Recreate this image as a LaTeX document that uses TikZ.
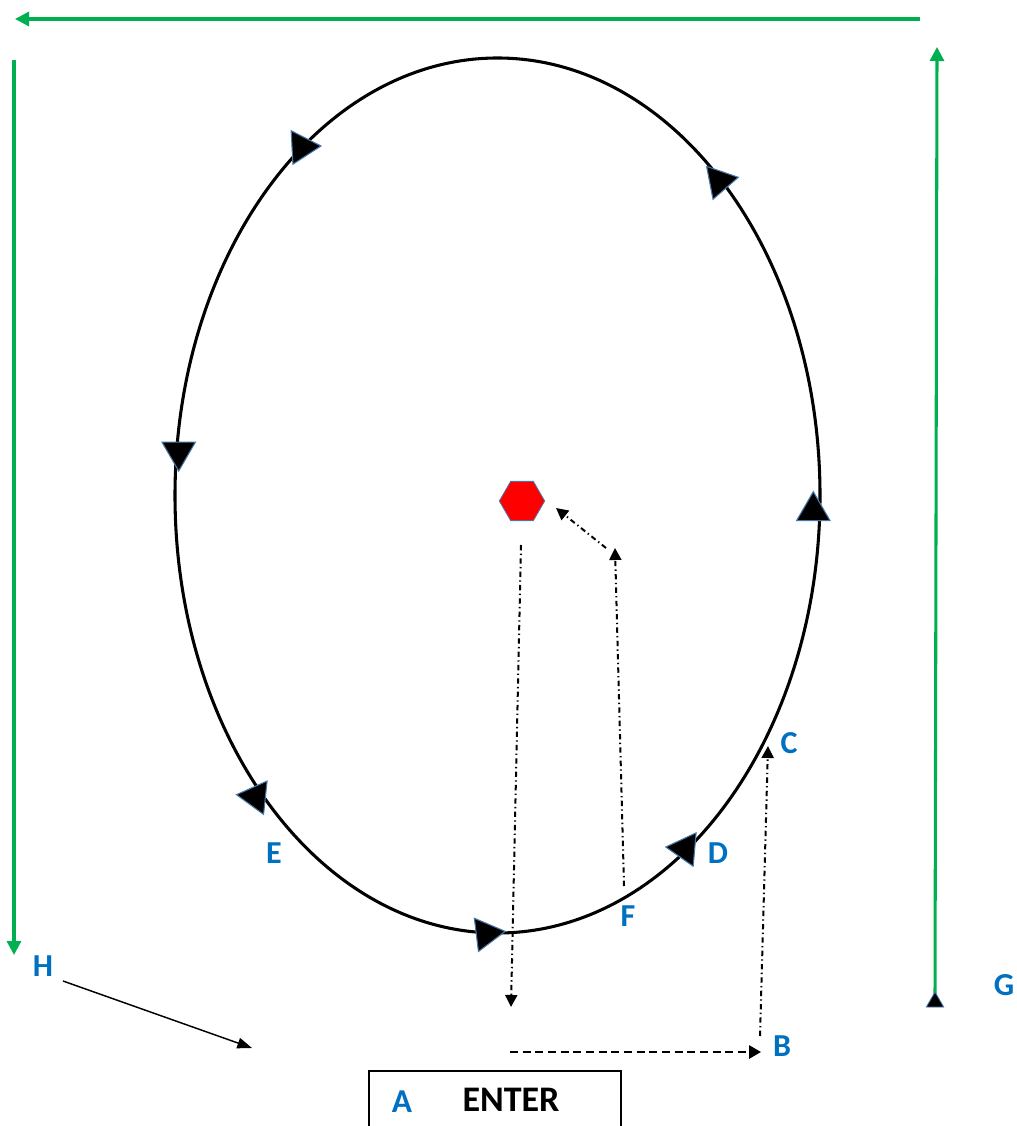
\documentclass[tikz,border=0pt]{standalone}
\usepackage{fontspec}
\setmainfont{Carlito}
\usetikzlibrary{arrows.meta,shapes.geometric}
\definecolor{grn}{RGB}{0,176,80}
\definecolor{lblue}{RGB}{0,112,192}
\definecolor{triedge}{RGB}{70,120,170}
\begin{document}
\begin{tikzpicture}[x=0.75pt,y=-0.75pt,
  grnline/.style={draw=grn,line width=2.3pt,-{Triangle[length=10.5pt,width=10.5pt]}},
  dashdot/.style={draw=black,line width=1.5pt,dash pattern=on 4pt off 2.5pt on 1pt off 2.5pt,-{Triangle[length=9pt,width=9pt]}},
  dashline/.style={draw=black,line width=1.5pt,dash pattern=on 6pt off 3.5pt,-{Triangle[length=9pt,width=10pt]}},
  dirtri/.style={regular polygon,regular polygon sides=3,fill=black,draw=triedge,line width=0.8pt,inner sep=0pt,minimum size=29pt},
  lbl/.style={text=lblue,font=\fontsize{24}{28}\selectfont\bfseries,inner sep=0pt}]
\clip (0,0) rectangle (1016,1126);
\useasboundingbox (0,0) rectangle (1016,1126);
\fill[white] (0,0) rectangle (1016,1126);

% ellipse
\draw[line width=2.3pt] (497.5,495.5) ellipse [x radius=322.5, y radius=437.5];

% direction triangles on the ellipse
\node[dirtri,rotate=-87] (t1) at (301.7,147) {};
\node[dirtri,rotate=41] (t2) at (719.3,181) {};
\node[dirtri,rotate=180] (t3) at (178.7,451.7) {};
\node[dirtri,rotate=0] (t4) at (813.3,511) {};
\node[dirtri,rotate=84] (t5) at (255.7,796.7) {};
\node[dirtri,rotate=85] (t6) at (685,848.7) {};
\node[dirtri,rotate=-83] (t7) at (486,933.7) {};

% green frame arrows
\coordinate (gtr) at (920,19);
\coordinate (gtl) at (15,19);
\coordinate (gl1) at (14,60);
\coordinate (gl2) at (14,955);
\coordinate (gr1) at (935,995);
\coordinate (gr2) at (937,47);
\draw[grnline] (gtr) -- (gtl);
\draw[grnline] (gl1) -- (gl2);
\draw[grnline] (gr1) -- (gr2);
\node[dirtri,minimum size=15pt,line width=0.6pt] (gtri) at (935,1002) {};

% hexagon
\node[regular polygon,regular polygon sides=6,fill=red,draw=triedge,line width=0.6pt,inner sep=0pt,minimum size=34pt] (hex) at (522,501) {};

% dash-dot arrows
\coordinate (d1s) at (521,545);
\coordinate (d1e) at (511,1007);
\coordinate (fs) at (624,886);
\coordinate (fe) at (615,548);
\coordinate (hs) at (606,548);
\coordinate (he) at (556,508);
\coordinate (cs) at (760,1036);
\coordinate (ce) at (768,746);
\coordinate (bs) at (510,1052);
\coordinate (be) at (761,1052);
\draw[dashdot] (d1s) -- (d1e);
\draw[dashdot] (fs) -- (fe);
\draw[dashdot] (hs) -- (he);
\draw[dashdot] (cs) -- (ce);
\draw[dashline] (bs) -- (be);

% H arrow
\coordinate (hs1) at (63,981);
\coordinate (he1) at (252,1048);
\draw[line width=1.1pt,-{Triangle[length=11pt,width=8pt]}] (hs1) -- (he1);

% ENTER box
\draw[line width=1.5pt] (369,1140) -- (369,1071) -- (621,1071) -- (621,1140);
\node[inner sep=0pt,font=\fontsize{27}{32}\selectfont\bfseries] (enter) at (511,1100) {ENTER};

% labels
\node[lbl,font=\fontsize{25}{30}\selectfont\bfseries] (A) at (402,1102) {A};
\node[lbl] (B) at (782,1046) {B};
\node[lbl] (C) at (789,743) {C};
\node[lbl] (D) at (718,853) {D};
\node[lbl] (E) at (274,853) {E};
\node[lbl] (F) at (628,916) {F};
\node[lbl] (G) at (1004,985) {G};
\node[lbl] (H) at (43,966) {H};
\end{tikzpicture}
\end{document}
